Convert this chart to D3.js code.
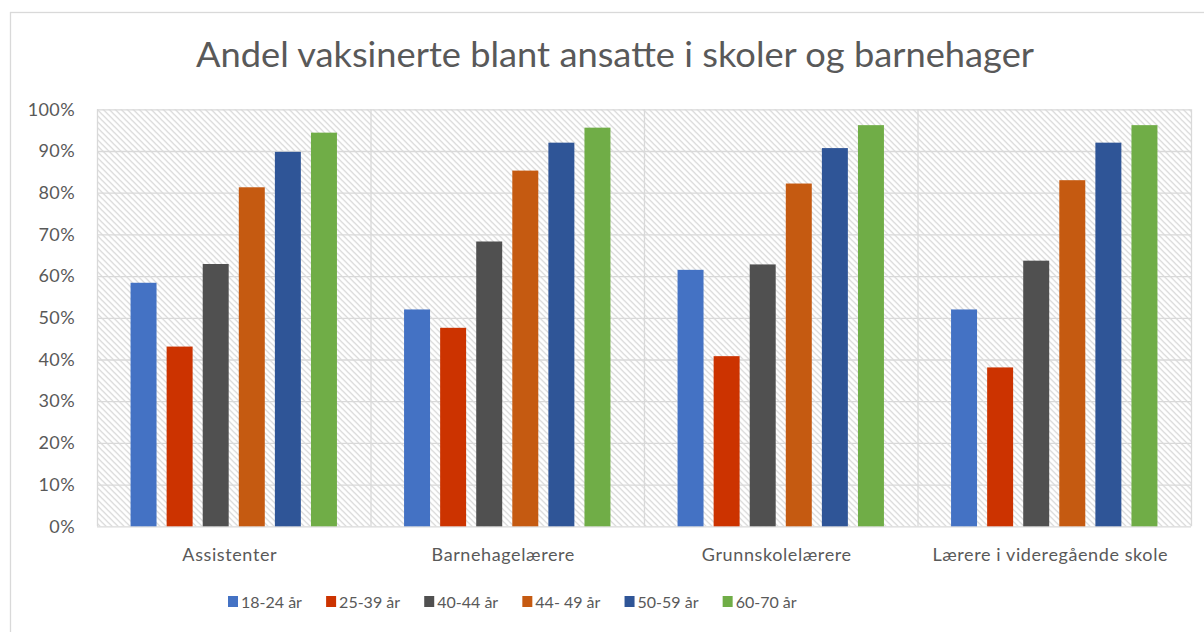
<!DOCTYPE html>
<html>
<head>
<meta charset="utf-8">
<script src="https://cdn.jsdelivr.net/npm/d3@7"></script>
<style>
    body { margin: 0; background: #ffffff; }
    text { font-family: Lato, "Open Sans", sans-serif; fill: #595959; }
    .grid line { stroke: #d9d9d9; stroke-width: 1.3; }
    .grid path { display: none; }
</style>
</head>
<body>
<div id="graph"></div>
<script>

// Chart data
var chartTitle = 'Andel vaksinerte blant ansatte i skoler og barnehager';
var categories = [ 'Assistenter', 'Barnehagelærere', 'Grunnskolelærere', 'Lærere i videregående skole' ];
var seriesNames = [ '18-24 år', '25-39 år', '40-44 år', '44- 49 år', '50-59 år', '60-70 år' ];
var seriesColors = [ '#4472c4', '#cc3300', '#505050', '#c55a11', '#2f5597', '#70ad47' ];

// one array per age group, in category order (percent)
var age18to24 = [ 58.4, 52.0, 61.5, 52.0 ];
var age25to39 = [ 43.1, 47.6, 40.8, 38.1 ];
var age40to44 = [ 62.9, 68.3, 62.8, 63.7 ];
var age44to49 = [ 81.3, 85.3, 82.2, 83.0 ];
var age50to59 = [ 89.8, 92.0, 90.7, 92.0 ];
var age60to70 = [ 94.4, 95.6, 96.2, 96.2 ];
var seriesValues = [ age18to24, age25to39, age40to44, age44to49, age50to59, age60to70 ];

var yTicks = [ 0, 10, 20, 30, 40, 50, 60, 70, 80, 90, 100 ];

function D3App ()
{
    var totalW = 1204;
    var totalH = 632;

    // plot area inside the page
    var margin = { top: 109.3, right: 13, bottom: 105.7, left: 97 };
    var width  = totalW - margin.left - margin.right;
    var height = totalH - margin.top  - margin.bottom;

    var svg = d3.select ('#graph')
                .append ('svg')
                .attr ('width', totalW)
                .attr ('height', totalH);

    // hatch pattern for the plot background
    var defs = svg.append ('defs');
    var pat = defs.append ('pattern')
                  .attr ('id', 'hatch')
                  .attr ('patternUnits', 'userSpaceOnUse')
                  .attr ('width', 6)
                  .attr ('height', 6);
    pat.append ('rect')
       .attr ('width', 6)
       .attr ('height', 6)
       .attr ('fill', '#ffffff');
    pat.append ('path')
       .attr ('d', 'M-1,-1 L7,7 M-4,2 L2,8 M4,-2 L8,2')
       .attr ('stroke', '#d4d4d4')
       .attr ('stroke-width', 1.2);

    // chart area border
    svg.append ('rect')
       .attr ('x', 10.5)
       .attr ('y', 12.5)
       .attr ('width', 1200)
       .attr ('height', 640)
       .attr ('fill', 'none')
       .attr ('stroke', '#d9d9d9')
       .attr ('stroke-width', 1.3);

    // Title
    svg.append ('text')
       .attr ('x', 615)
       .attr ('y', 67)
       .attr ('text-anchor', 'middle')
       .attr ('textLength', 838)
       .attr ('lengthAdjust', 'spacingAndGlyphs')
       .style ('font-size', '34px')
       .style ('font-weight', 400)
       .text (chartTitle);

    var g = svg.append ('g')
               .attr ('transform', 'translate(' + margin.left + ',' + margin.top + ')');

    // Scales
    var x0 = d3.scaleBand ()
               .domain (categories)
               .range ([ 0, width ])
               .padding (0);

    var x1 = d3.scaleBand ()
               .domain (seriesNames)
               .range ([ 0, x0.bandwidth () ])
               .paddingInner (0.28)
               .paddingOuter (0.93);

    var yScale = d3.scaleLinear ()
                   .domain ([ 0, 100 ])
                   .range ([ height, 0 ]);

    // background
    g.append ('rect')
     .attr ('width', width)
     .attr ('height', height)
     .attr ('fill', 'url(#hatch)');

    // horizontal gridlines
    var yGrid = d3.axisLeft ()
                  .scale (yScale)
                  .tickValues (yTicks)
                  .tickSize (-width)
                  .tickFormat ('');
    g.append ('g')
     .attr ('class', 'grid')
     .call (yGrid);

    // vertical category dividers
    var xGrid = d3.axisBottom ()
                  .scale (d3.scaleLinear ().domain ([ 0, categories.length ]).range ([ 0, width ]))
                  .ticks (categories.length)
                  .tickSize (-height)
                  .tickFormat ('');
    g.append ('g')
     .attr ('class', 'grid')
     .attr ('transform', 'translate(0,' + height + ')')
     .call (xGrid);

    // y labels
    var yAxis = d3.axisLeft ()
                  .scale (yScale)
                  .tickValues (yTicks)
                  .tickSize (0)
                  .tickPadding (22)
                  .tickFormat (function (d) { return d + '%'; });
    var yA = g.append ('g').call (yAxis);
    yA.select ('.domain').remove ();
    yA.selectAll ('text')
      .style ('font-size', '18px')
      .style ('letter-spacing', '0.4px')
      .style ('font-family', 'Lato, sans-serif')
      .attr ('fill', '#595959');

    // category labels
    var xAxis = d3.axisBottom ()
                  .scale (x0)
                  .tickSize (0)
                  .tickPadding (22);
    var xA = g.append ('g')
              .attr ('transform', 'translate(0,' + height + ')')
              .call (xAxis);
    xA.select ('.domain').remove ();
    xA.selectAll ('text')
      .attr ('dx', -4)
      .style ('font-size', '18px')
      .style ('letter-spacing', '0.6px')
      .style ('font-family', 'Lato, sans-serif')
      .attr ('fill', '#595959');

    // bars
    var groups = g.selectAll ('.cat')
                  .data (categories)
                  .enter ()
                  .append ('g')
                  .attr ('class', 'cat')
                  .attr ('transform', function (d) { return 'translate(' + x0 (d) + ',0)'; });

    groups.selectAll ('rect')
          .data (function (d, ci) {
              return seriesNames.map (function (s, si) {
                  return { name: s, value: seriesValues[si][ci], color: seriesColors[si] };
              });
          })
          .enter ()
          .append ('rect')
          .attr ('x', function (d) { return x1 (d.name); })
          .attr ('y', function (d) { return yScale (d.value); })
          .attr ('width', x1.bandwidth ())
          .attr ('height', function (d) { return height - yScale (d.value); })
          .attr ('fill', function (d) { return d.color; });

    //
    // legend
    //
    var legend = svg.append ('g')
                    .attr ('transform', 'translate(228,608)');
    var lx = 0;
    seriesNames.forEach (function (s, i)
    {
        var item = legend.append ('g').attr ('transform', 'translate(' + lx + ',0)');
        item.append ('rect')
            .attr ('x', 0)
            .attr ('y', -12)
            .attr ('width', 10)
            .attr ('height', 11)
            .attr ('fill', seriesColors[i]);
        var t = item.append ('text')
                    .attr ('x', 13)
                    .attr ('y', 0)
                    .style ('font-size', '16px')
                    .text (s);
        lx += 13 + t.node ().getBBox ().width + 24;
    });
}

if (document.fonts && document.fonts.ready)
    document.fonts.ready.then (D3App);
else
    D3App ();
</script>
</body>
</html>
